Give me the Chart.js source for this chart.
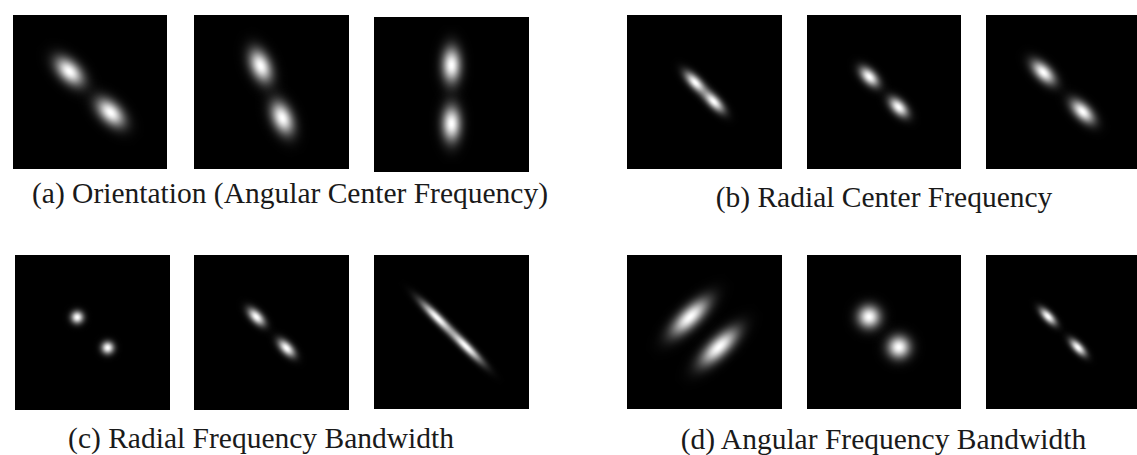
<!DOCTYPE html>
<html><head><meta charset="utf-8">
<script src="https://cdn.jsdelivr.net/npm/chart.js@4.4.1/dist/chart.umd.min.js"></script>
<style>
html,body{margin:0;padding:0;background:#fff;width:1137px;height:455px;overflow:hidden;}
#wrap{position:relative;width:1137px;height:455px;overflow:hidden;}
.panel{position:absolute;display:block;}
.cap{position:absolute;font-family:"Liberation Serif","Times New Roman",serif;font-size:29.5px;line-height:29.5px;color:#1a1a1a;white-space:nowrap;transform:translateX(-50%);}
</style></head><body><div id="wrap"></div>
<script>
// ---- data (normalized frequency units, panel spans -0.5 .. 0.5) ----
const captions = [
  "(a) Orientation (Angular Center Frequency)",
  "(b) Radial Center Frequency",
  "(c) Radial Frequency Bandwidth",
  "(d) Angular Frequency Bandwidth"
];
const panelGroup     = [0, 0, 0, 1, 1, 1, 2, 2, 2, 3, 3, 3];
const orientationDeg = [-45, -67.5, -90, -46, -46, -45, -45, -46, -45, -46, -45.5, -46];
const centerFreq     = [0.189, 0.183, 0.189, 0.085, 0.137, 0.180, 0.139, 0.140, 0.130, 0.135, 0.138, 0.140];
const radialSigma    = [0.075, 0.075, 0.078, 0.060, 0.052, 0.064, 0.028, 0.047, 0.098, 0.042, 0.050, 0.046];
const angularSigma   = [0.045, 0.045, 0.042, 0.026, 0.030, 0.034, 0.028, 0.025, 0.020, 0.105, 0.050, 0.021];
const freqRange      = [-0.5, 0.5];

// ---- layout ----
const boxes = [
  [8,10,164,164],[189,10,165,164],[369,12,165,165],
  [622,10,165,164],[802,10,164,164],[981,10,164,164],
  [10,250,165,165],[189,250,165,165],[369,250,165,164],
  [622,250,165,164],[802,250,164,164],[981,250,164,164]
];
const capPos = [[290,179],[884,183],[261,423.5],[883.5,425]];

const wrap = document.getElementById('wrap');
captions.forEach((t,i)=>{
  const d=document.createElement('div'); d.className='cap'; d.textContent=t;
  d.style.left=capPos[i][0]+'px'; d.style.top=capPos[i][1]+'px'; wrap.appendChild(d);
});

function blobCanvas(sx, sy){
  const r=Math.ceil(3.3*Math.max(sx,sy)); const n=2*r+1;
  const c=document.createElement('canvas'); c.width=n; c.height=n;
  const g=c.getContext('2d'); const img=g.createImageData(n,n); const a=img.data;
  for(let j=0;j<n;j++){for(let i=0;i<n;i++){
    const dx=i-r, dy=j-r;
    const v=Math.exp(-0.5*(dx*dx/(sx*sx)+dy*dy/(sy*sy)));
    const k=(j*n+i)*4; a[k]=255;a[k+1]=255;a[k+2]=255;a[k+3]=Math.round(255*v);
  }}
  g.putImageData(img,0,0); return c;
}

const bgPlugin={id:'bg',beforeDraw(ch){const {ctx,chartArea:a}=ch;ctx.save();ctx.fillStyle='#000';ctx.fillRect(a.left,a.top,a.right-a.left,a.bottom-a.top);ctx.restore();}};

boxes.forEach((b,i)=>{
  const cv=document.createElement('canvas'); cv.className='panel';
  cv.width=b[2]; cv.height=b[3];
  cv.style.left=b[0]+'px'; cv.style.top=b[1]+'px'; cv.style.width=b[2]+'px'; cv.style.height=b[3]+'px';
  wrap.appendChild(cv);
  const th=orientationDeg[i]*Math.PI/180, f=centerFreq[i];
  const pts=[{x:f*Math.cos(th),y:f*Math.sin(th)},{x:-f*Math.cos(th),y:-f*Math.sin(th)}];
  let cache=null;
  new Chart(cv,{
    type:'scatter',
    data:{datasets:[{data:pts,
      pointRadius:3,
      pointRotation:-orientationDeg[i],
      pointStyle:(ctx)=>{
        if(cache) return cache;
        const ch=ctx.chart;
        let kx=NaN, ky=NaN;
        if(ch.scales&&ch.scales.x&&ch.scales.y){
          kx=Math.abs(ch.scales.x.getPixelForValue(1)-ch.scales.x.getPixelForValue(0));
          ky=Math.abs(ch.scales.y.getPixelForValue(1)-ch.scales.y.getPixelForValue(0));
        }
        if(!isFinite(kx)||!isFinite(ky)||kx<=0||ky<=0) return 'circle';
        cache=blobCanvas(radialSigma[i]*kx, angularSigma[i]*ky);
        return cache;
      }
    }]},
    options:{responsive:false,maintainAspectRatio:false,animation:false,events:[],devicePixelRatio:1,
      layout:{padding:0},
      plugins:{legend:{display:false},tooltip:{enabled:false},title:{display:false}},
      scales:{x:{type:'linear',min:freqRange[0],max:freqRange[1],display:false},
              y:{type:'linear',min:freqRange[0],max:freqRange[1],display:false}}
    },
    plugins:[bgPlugin]
  });
});
</script></body></html>
